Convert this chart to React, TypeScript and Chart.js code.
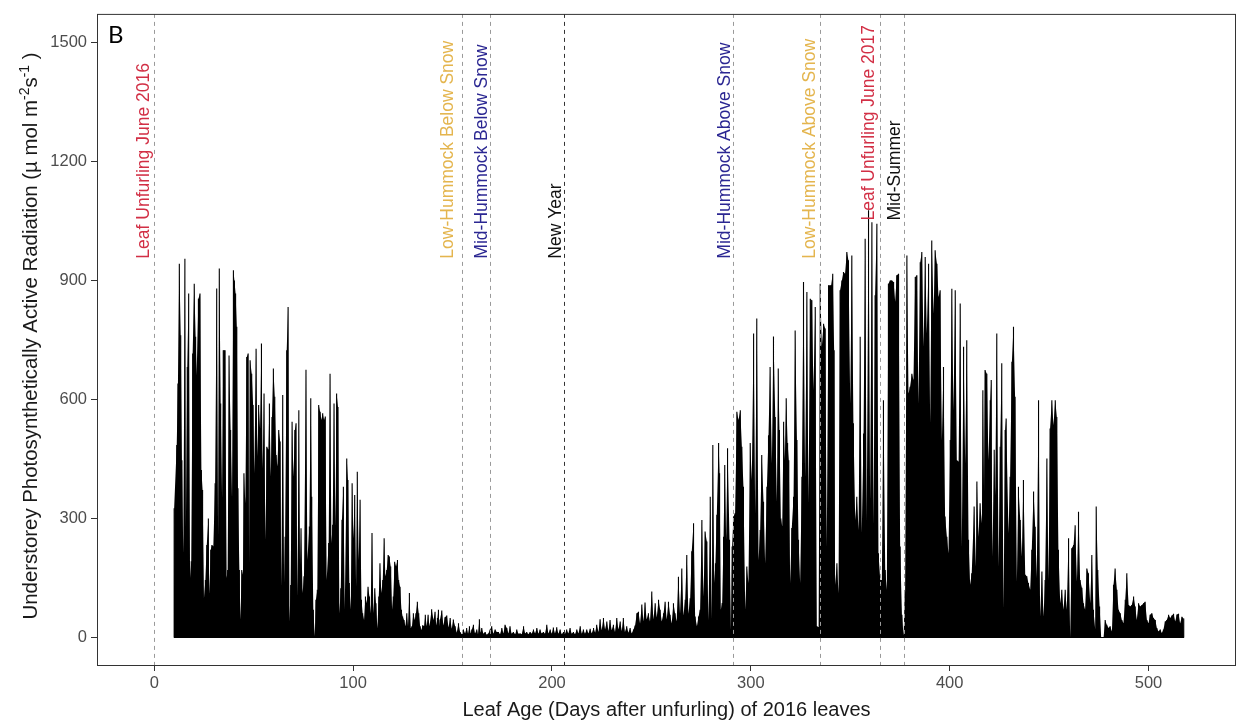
import React, { useEffect, useRef } from "react";
import { Chart, registerables } from "chart.js";

Chart.register(...registerables);

const leafAge: number[] = [
  9.9, 10.0, 11.3, 11.9, 12.6, 13.3, 13.9, 14.6, 15.4, 15.9, 16.6, 17.3, 18.0, 18.6, 19.3, 20.1, 20.8, 21.3, 22.2, 23.0,
  23.7, 24.3, 25.0, 25.7, 26.4, 27.2, 27.7, 28.4, 29.0, 29.7, 30.6, 31.4, 32.1, 32.7, 33.4, 34.1, 34.7, 35.6, 36.4, 36.9,
  37.6, 38.4, 39.1, 39.8, 40.3, 40.9, 41.5, 42.1, 42.8, 43.3, 44.0, 44.6, 45.1, 45.8, 46.5, 47.2, 47.7, 48.2, 49.0, 49.7,
  50.3, 51.2, 51.9, 52.5, 53.2, 53.9, 54.5, 55.2, 55.9, 56.6, 57.4, 57.9, 58.6, 59.2, 59.9, 60.6, 61.3, 61.9, 62.6, 63.3,
  63.9, 64.6, 65.3, 65.8, 66.6, 67.3, 68.0, 68.6, 69.3, 70.0, 70.7, 71.3, 72.0, 72.7,
  73.3, 73.8, 74.6, 75.3, 76.3, 77.0, 78.0, 78.7, 79.2, 80.0, 80.7, 81.3, 82.0, 82.7, 83.4, 84.0, 84.7, 85.4, 86.0, 86.7,
  87.7, 88.4, 89.1, 89.7, 90.4, 91.1, 91.7, 92.4, 93.1, 93.8, 94.4, 95.1, 95.8, 96.8, 97.4, 98.1, 98.8, 99.5, 100.1, 100.8,
  101.5, 102.1, 102.8, 103.5, 104.2, 104.8, 105.5, 106.2, 106.8, 107.5, 108.2, 108.8, 109.5, 110.2, 110.9, 111.5, 112.2, 112.9, 113.5, 114.2,
  114.9, 115.6, 116.2, 116.9, 117.6, 118.2, 118.9, 119.6, 120.2, 120.9, 121.6, 122.3, 122.9, 123.6, 124.3, 124.9, 125.6, 126.3, 127.0, 127.6,
  128.3, 129.0, 129.6, 130.3, 131.0, 131.6, 132.3, 133.0, 133.7, 134.3, 135.0, 135.7, 136.3, 137.0, 137.7, 138.4,
  139.5, 140.4, 141.2, 141.8, 142.4, 142.9, 143.3, 143.7, 144.6, 145.4, 146.2, 147.1, 148.0, 148.8, 149.6, 150.4, 151.3, 152.1, 153.0, 153.8,
  154.6, 155.5, 156.3, 157.1, 157.8, 158.5, 159.1, 159.7, 160.5, 161.3, 162.2, 162.8, 163.5, 164.1, 164.7, 165.5, 166.4, 167.2, 168.0, 168.9,
  169.7, 170.5, 171.4, 172.2, 173.1, 173.9, 174.8, 175.6, 176.4, 177.3, 178.1, 178.9, 179.7, 180.6, 181.5, 182.3, 183.1, 184.0, 184.8, 185.7,
  186.5, 187.3, 188.1, 189.0, 189.8, 190.7, 191.5, 192.4, 193.2, 194.0, 194.8, 195.7, 196.5, 197.4, 198.2, 199.1, 199.9, 200.7, 201.5, 202.4,
  203.2, 204.1, 204.9, 205.8, 206.6, 207.4, 208.2, 209.1, 209.9, 210.8, 211.6, 212.5, 213.3, 214.2, 215.0, 215.8, 216.6, 217.5, 218.3, 219.2,
  220.0, 220.9, 221.7, 222.5, 223.4, 224.2, 225.0, 225.9, 226.7, 227.6, 228.4, 229.2, 230.0, 230.9, 231.7, 232.6, 233.4, 234.3, 235.1, 235.9,
  236.7, 237.6, 238.4, 239.3, 240.1, 241.0, 241.8, 242.7, 243.5, 244.3, 245.2, 246.0, 246.8, 247.6, 248.5, 249.3, 250.2, 251.0, 251.9, 252.7,
  253.6, 254.4, 255.2, 256.1, 256.9, 257.7, 258.6, 259.4, 260.2, 261.1, 261.9, 262.7, 263.6, 264.4, 265.3, 266.1, 267.0, 267.8, 268.6, 269.5,
  270.3, 271.2, 272.0, 272.9, 273.7, 274.5, 275.4, 276.2, 277.0, 277.9, 278.7, 279.6, 280.4, 280.9, 281.6, 282.2, 282.9, 283.8, 284.3, 284.9,
  285.6, 286.3, 286.9, 287.6, 288.3, 289.3, 290.0, 290.6, 291.3, 292.1, 293.0, 293.8, 294.7, 295.5, 296.3, 297.2, 298.0, 298.8, 299.7, 300.5,
  301.4, 302.2, 303.0, 303.9, 304.7, 305.5, 306.4, 307.2, 308.1, 308.9, 309.7, 310.6, 311.4, 312.3, 313.1, 313.8, 314.4, 315.1, 315.8, 316.5,
  317.1, 317.8, 318.5, 319.1, 319.8, 320.6, 321.5, 322.3, 323.2, 324.0, 324.8, 325.7, 326.5, 327.3, 328.2, 329.0, 329.9, 330.7, 331.5, 332.4,
  333.2, 334.1, 334.9, 335.7, 336.6, 337.4, 338.2, 339.1,
  340.4, 341.2, 341.9, 342.4, 343.3, 344.1, 344.9, 345.8, 346.6, 347.4, 348.3, 349.1, 350.0, 350.8, 351.6, 352.5, 353.3, 354.2, 355.0, 355.8,
  356.7, 357.5, 358.3, 359.2, 360.0, 360.9, 361.7, 362.5, 363.4, 364.2, 365.1, 365.9, 366.7, 367.6, 368.4, 369.2, 370.1, 370.9, 371.8, 372.6,
  373.4, 374.3, 375.1, 376.0, 376.8, 377.6, 378.5, 379.3, 380.1, 381.0, 381.8, 382.7, 383.5, 384.3, 385.2, 386.0, 386.9, 387.7, 388.5, 389.4,
  390.2, 391.0, 391.9, 392.7, 393.6, 394.4, 395.2, 396.1, 396.9, 397.7, 398.6, 399.4, 400.3, 401.1, 401.9, 402.8, 403.6, 404.5, 405.3, 406.1,
  407.0, 407.8, 408.6, 409.5,
  410.3, 411.1, 412.3, 413.2, 413.7, 414.5, 415.3, 416.2, 416.7, 417.3, 417.8, 418.7, 419.5, 420.4, 420.9, 421.5, 422.4, 422.9, 423.7, 424.6,
  425.4, 426.2, 427.1, 427.9, 428.4, 429.6, 430.4, 431.3, 432.1, 432.9, 433.8, 434.6, 435.5, 436.3, 437.1, 438.0, 438.8, 439.6, 440.5, 441.3,
  442.2, 443.0, 443.8, 444.7, 445.5, 446.4, 447.2, 448.0, 448.9, 449.7, 450.5, 451.4, 452.2, 453.1, 453.9, 454.7, 455.6, 456.4, 457.2, 458.1,
  458.9, 459.8, 460.6, 461.4, 462.3, 463.1, 464.0, 464.8, 465.6, 466.5, 467.3, 468.1, 469.0, 469.8, 470.7, 471.5, 472.3, 473.2, 473.7, 474.5,
  475.4, 476.2, 477.4, 478.2, 479.0, 479.9, 480.7, 481.6, 482.4, 483.2, 484.1, 484.9, 485.8, 486.6, 487.4, 488.3, 489.1, 490.0, 490.8, 491.6,
  492.5, 493.3, 494.1, 495.0, 495.8, 496.7, 497.5, 498.3, 499.2, 500.0, 500.8, 501.7, 502.5, 503.4, 504.2, 505.0, 505.9, 506.7, 507.5, 508.4,
  509.2, 510.1, 510.9, 511.8, 512.6, 513.4, 514.3, 515.1, 515.9, 516.8, 517.6, 517.8,
];

// Understorey PAR (µmol m-2 s-1) read at those leaf ages
const par: number[] = [
  0, 326, 485, 640, 942, 762, 447, 212, 955, 280, 682, 867, 150, 192, 716, 892, 758, 661, 854, 867,
  422, 372, 99, 145, 233, 300, 110, 221, 233, 229, 389, 880, 254, 930, 590, 351, 724, 724, 150, 170,
  711, 523, 351, 926, 900, 867, 783, 376, 170, 45, 170, 158, 414, 338, 707, 716, 187, 699, 665, 586,
  414, 728, 456, 586, 527, 741, 426, 615, 246, 481, 473, 590, 405, 556, 678, 607, 460, 431, 523, 494,
  128, 611, 137, 254, 724, 833, 40, 132, 544, 405, 523, 540, 103, 573,
  183, 275, 112, 154, 675, 195, 280, 603, 355, 70, 3, 95, 120, 586, 569, 548, 565, 548, 557, 145,
  238, 665, 238, 284, 590, 280, 615, 581, 61, 124, 297, 380, 70, 451, 397, 137, 70, 389, 250, 359,
  128, 418, 195, 347, 95, 61, 44, 103, 86, 128, 103, 61, 263, 61, 124, 86, 23, 103, 187, 112,
  145, 250, 154, 170, 208, 204, 179, 70, 103, 191, 179, 195, 145, 128, 70, 53, 44, 28, 61, 28,
  112, 23, 28, 61, 44, 61, 90, 61, 28, 19, 31, 28, 57, 28, 57, 28,
  71, 44, 65, 30, 49, 70, 28, 45, 68, 30, 51, 55, 25, 49, 22, 45, 28, 12, 36, 14,
  8, 20, 10, 24, 9, 28, 10, 20, 32, 10, 20, 8, 46, 12, 24, 9, 14, 7, 10, 20,
  28, 9, 20, 14, 14, 8, 24, 10, 32, 24, 10, 28, 9, 14, 8, 20, 9, 10, 8, 28,
  10, 14, 8, 14, 9, 20, 10, 24, 9, 20, 10, 14, 9, 32, 10, 20, 9, 25, 10, 26,
  9, 20, 8, 14, 9, 20, 10, 24, 9, 14, 8, 20, 10, 28, 9, 20, 9, 20, 10, 22,
  10, 24, 12, 32, 14, 46, 18, 49, 20, 40, 16, 44, 18, 32, 14, 49, 20, 40, 16, 49,
  14, 28, 12, 24, 10, 20, 30, 61, 65, 35, 83, 40, 88, 45, 61, 40, 116, 45, 86, 50,
  95, 70, 40, 61, 90, 45, 90, 57, 35, 86, 61, 40, 153, 60, 174, 55, 95, 208, 60, 99,
  217, 288, 53, 28, 53, 70, 296, 103, 267, 242, 44, 355, 48, 485, 137, 187, 309, 490, 414, 70,
  87, 254, 435, 246, 477, 246, 19, 229, 305, 313, 569, 548, 573, 481, 380, 70, 179, 137, 490, 397,
  766, 313, 804, 195, 271, 460, 342, 187, 380, 510, 682, 439, 759, 556, 342, 678, 523, 300, 280, 544,
  447, 603, 490, 447, 137, 276, 355, 774, 498, 246, 137, 405, 896, 405, 871, 338, 854, 850, 624, 833,
  28, 26, 892, 732, 791, 779, 229, 888,
  888, 917, 724, 133, 187, 112, 875, 900, 921, 917, 972, 951, 590, 963, 540, 296, 355, 271, 758, 263,
  514, 1005, 296, 1077, 347, 1047, 284, 863, 1043, 212, 145, 145, 598, 170, 120, 892, 900, 900, 896, 846,
  913, 917, 229, 57, 5, 116, 963, 615, 632, 665, 649, 909, 913, 590, 946, 972, 733, 959, 766, 942,
  540, 1001, 816, 976, 942, 858, 875, 498, 682, 305, 254, 212, 498, 879, 573, 875, 447, 443, 842, 229,
  733, 439, 749, 246,
  133, 162, 330, 179, 393, 254, 338, 288, 623, 368, 674, 665, 447, 598, 649, 204, 473, 359, 766, 179,
  481, 691, 74, 523, 552, 263, 405, 695, 783, 607, 141, 380, 296, 204, 397, 158, 154, 137, 120, 221,
  368, 279, 150, 598, 53, 166, 53, 145, 451, 145, 527, 598, 535, 598, 556, 221, 86, 120, 70, 120,
  70, 250, 0, 225, 233, 283, 141, 317, 145, 125, 86, 70, 174, 162, 86, 208, 70, 20, 330, 170,
  78, 0, 0, 44, 32, 24, 28, 15, 133, 174, 120, 70, 61, 44, 36, 95, 162, 82, 78, 82,
  103, 78, 44, 86, 78, 82, 86, 90, 44, 36, 57, 61, 49, 44, 24, 15, 20, 11, 20, 40,
  44, 57, 49, 55, 60, 40, 58, 60, 35, 52, 48, 0,
];

const xTicks: number[] = [0, 100, 200, 300, 400, 500];
const yTicks: number[] = [0, 300, 600, 900, 1200, 1500];

// Event markers (vertical dashed lines) and their rotated labels
const eventDays: number[] = [0, 155, 169, 206, 291, 335, 365, 377];
const eventLabels: string[] = [
  "Leaf Unfurling June 2016",
  "Low-Hummock Below Snow",
  "Mid-Hummock Below Snow",
  "New Year",
  "Mid-Hummock Above Snow",
  "Low-Hummock Above Snow",
  "Leaf Unfurling June 2017",
  "Mid-Summer",
];
const eventColors: string[] = [
  "#D22F45", "#E4B54E", "#2B2792", "#111111", "#2B2792", "#E4B54E", "#D22F45", "#111111",
];
const eventLineColors: string[] = [
  "#9a9a9a", "#9a9a9a", "#9a9a9a", "#333333", "#9a9a9a", "#9a9a9a", "#9a9a9a", "#9a9a9a",
];
const labelDays: number[] = [-2.6, 150.1, 167.4, 204.4, 289.6, 332.3, 362.2, 375.1];
const labelStart: number[] = [955, 955, 955, 955, 955, 955, 1051, 1051];

const FONT = "'Liberation Sans', Arial, sans-serif";

const overlayPlugin = {
  id: "overlay",
  afterDatasetsDraw(chart: any) {
    const { ctx, chartArea, scales } = chart;
    const xs = scales.x;
    const ys = scales.y;
    ctx.save();
    ctx.beginPath();
    ctx.rect(chartArea.left, chartArea.top, chartArea.right - chartArea.left, chartArea.bottom - chartArea.top);
    ctx.clip();
    eventDays.forEach((d, i) => {
      const px = Math.round(xs.getPixelForValue(d)) + 0.5;
      ctx.strokeStyle = eventLineColors[i];
      ctx.lineWidth = 1;
      ctx.setLineDash([4, 4]);
      ctx.beginPath();
      ctx.moveTo(px, chartArea.top);
      ctx.lineTo(px, chartArea.bottom);
      ctx.stroke();
    });
    ctx.setLineDash([]);
    ctx.font = `17.5px ${FONT}`;
    ctx.textAlign = "left";
    ctx.textBaseline = "alphabetic";
    eventLabels.forEach((lab, i) => {
      const px = xs.getPixelForValue(labelDays[i]);
      const py = ys.getPixelForValue(labelStart[i]);
      ctx.save();
      ctx.translate(px, py);
      ctx.rotate(-Math.PI / 2);
      ctx.fillStyle = eventColors[i];
      ctx.fillText(lab, 0, 0);
      ctx.restore();
    });
    ctx.restore();
  },
  afterDraw(chart: any) {
    const { ctx, chartArea } = chart;
    ctx.save();
    ctx.strokeStyle = "#333333";
    ctx.lineWidth = 1;
    ctx.strokeRect(
      chartArea.left + 0.5,
      chartArea.top + 0.5,
      chartArea.right - chartArea.left - 1,
      chartArea.bottom - chartArea.top - 1
    );
    ctx.fillStyle = "#000";
    ctx.font = "24px Lato, 'Open Sans', sans-serif";
    ctx.textAlign = "left";
    ctx.textBaseline = "alphabetic";
    ctx.fillText("B", 108, 43);
    ctx.fillStyle = "#1a1a1a";
    ctx.font = `20px ${FONT}`;
    ctx.textAlign = "center";
    ctx.fillText("Leaf Age (Days after unfurling) of 2016 leaves", (chartArea.left + chartArea.right) / 2, 716);
    const parts = [
      { t: "Understorey Photosynthetically Active Radiation (µ mol m", sup: false },
      { t: "-2", sup: true },
      { t: "s", sup: false },
      { t: "-1", sup: true },
      { t: " )", sup: false },
    ];
    const big = `20.4px ${FONT}`;
    const small = `14px ${FONT}`;
    let total = 0;
    parts.forEach((p) => {
      ctx.font = p.sup ? small : big;
      total += ctx.measureText(p.t).width;
    });
    const cy = (chartArea.top + chartArea.bottom) / 2 - 4;
    ctx.translate(37, cy + total / 2);
    ctx.rotate(-Math.PI / 2);
    ctx.textAlign = "left";
    let off = 0;
    parts.forEach((p) => {
      ctx.font = p.sup ? small : big;
      ctx.fillText(p.t, off, p.sup ? -8 : 0);
      off += ctx.measureText(p.t).width;
    });
    ctx.restore();
  },
};

export default function App() {
  const ref = useRef<HTMLCanvasElement | null>(null);
  useEffect(() => {
    if (!ref.current) return;
    // area under the readings (the dense, overlapping hourly trace)
    const area = leafAge.map((x, i) => ({ x, y: par[i] }));
    // each reading also drawn as the near-vertical stroke the trace forms from the zero line
    const strokes: { x: number; y: number }[] = [];
    leafAge.forEach((x, i) => {
      strokes.push({ x, y: 0 });
      strokes.push({ x, y: par[i] });
      strokes.push({ x, y: 0 });
    });
    const tickFont = { family: FONT, size: 16.5 };
    const chart = new Chart(ref.current, {
      type: "line",
      data: {
        datasets: [
          {
            data: area,
            borderColor: "rgba(0,0,0,0)",
            backgroundColor: "#000",
            borderWidth: 0,
            pointRadius: 0,
            tension: 0,
            fill: "origin",
          },
          {
            data: strokes,
            borderColor: "#000",
            borderWidth: 1.1,
            borderJoinStyle: "bevel",
            borderCapStyle: "butt",
            pointRadius: 0,
            tension: 0,
            fill: false,
          },
        ],
      },
      options: {
        responsive: false,
        animation: false,
        devicePixelRatio: 1,
        layout: { padding: { top: 13, right: 4, left: 0, bottom: 0 } },
        plugins: { legend: { display: false }, tooltip: { enabled: false } },
        scales: {
          x: {
            type: "linear",
            min: -28.8,
            max: 544,
            afterBuildTicks: (s: any) => {
              s.ticks = xTicks.map((v) => ({ value: v }));
            },
            afterFit: (s: any) => {
              s.height = 56;
            },
            grid: { display: true, drawOnChartArea: false, drawTicks: true, tickLength: 5, color: "#333" },
            border: { display: false },
            ticks: {
              font: tickFont,
              color: "#4d4d4d",
              padding: 3,
              maxRotation: 0,
              autoSkip: false,
              callback: (v: any) => String(v),
            },
          },
          y: {
            type: "linear",
            min: -72,
            max: 1572,
            afterBuildTicks: (s: any) => {
              s.ticks = yTicks.map((v) => ({ value: v }));
            },
            afterFit: (s: any) => {
              s.width = 97;
            },
            grid: { display: true, drawOnChartArea: false, drawTicks: true, tickLength: 6, color: "#333" },
            border: { display: false },
            ticks: {
              font: tickFont,
              color: "#4d4d4d",
              padding: 4,
              autoSkip: false,
              callback: (v: any) => String(v),
            },
          },
        },
      },
      plugins: [overlayPlugin],
    });
    return () => chart.destroy();
  }, []);
  return (
    <div style={{ position: "fixed", left: 0, top: 0, width: 1240, height: 722, background: "#fff" }}>
      <canvas ref={ref} width={1240} height={722} style={{ display: "block", width: 1240, height: 722 }} />
    </div>
  );
}
